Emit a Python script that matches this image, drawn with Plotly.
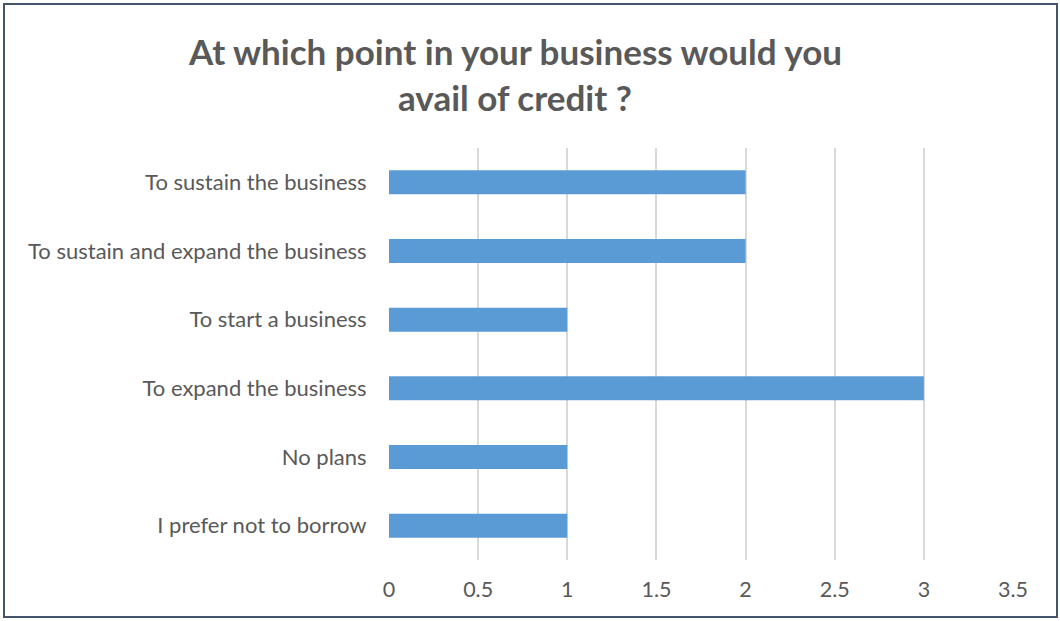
import plotly.graph_objects as go

# Survey responses, listed bottom-to-top as drawn on the category axis
categories = [
    "I prefer not to borrow",
    "No plans",
    "To expand the business",
    "To start a business",
    "To sustain and expand the business",
    "To sustain the business",
]
counts = [1, 1, 3, 1, 2, 2]

x_ticks = [0, 0.5, 1, 1.5, 2, 2.5, 3, 3.5]
x_tick_labels = ["0", "0.5", "1", "1.5", "2", "2.5", "3", "3.5"]

W, H = 1060, 621
L, R, T, B = 389, 47, 148, 61
pw, ph = W - L - R, H - T - B

def px_x(p):
    return (p - L) / pw

def px_y(p):
    return (H - B - p) / ph

FONT = "Lato, 'Open Sans', sans-serif"
TEXT = "#595959"

fig = go.Figure(
    go.Bar(
        x=counts,
        y=categories,
        orientation="h",
        marker=dict(color="#5B9BD5", line=dict(width=0)),
        width=0.35,
        hoverinfo="x+y",
    )
)

fig.update_layout(
    width=W,
    height=H,
    margin=dict(l=L, r=R, t=T, b=B, pad=0),
    paper_bgcolor="white",
    plot_bgcolor="white",
    showlegend=False,
    font=dict(family=FONT, size=22, color=TEXT),
    bargap=0.65,
)

fig.update_xaxes(
    range=[0, 3.5],
    tickvals=x_ticks,
    ticktext=x_tick_labels,
    showgrid=True,
    gridcolor="#D9D9D9",
    gridwidth=2,
    zeroline=False,
    showline=False,
    ticks="outside",
    ticklen=10,
    tickcolor="rgba(0,0,0,0)",
    tickfont=dict(family=FONT, size=21.5, color=TEXT),
)

fig.update_yaxes(
    categoryorder="array",
    categoryarray=categories,
    showgrid=False,
    zeroline=False,
    showline=False,
    ticks="outside",
    ticklen=17,
    tickcolor="rgba(0,0,0,0)",
    tickfont=dict(family=FONT, size=22, color=TEXT),
)

# Chart title in two lines
for text, py in [("At which point in your business would you", 51), ("avail of credit ?", 97)]:
    fig.add_annotation(
        x=px_x(515), y=px_y(py), xref="paper", yref="paper",
        text=f"<b>{text}</b>", showarrow=False,
        xanchor="center", yanchor="middle",
        font=dict(family=FONT, size=35, color=TEXT),
    )

# Outer chart border
fig.add_shape(
    type="rect", xref="paper", yref="paper",
    x0=px_x(4), x1=px_x(1057), y0=px_y(617), y1=px_y(4),
    line=dict(color="#44546A", width=2),
    fillcolor="rgba(0,0,0,0)",
    layer="above",
)

fig.write_html("out.html")
